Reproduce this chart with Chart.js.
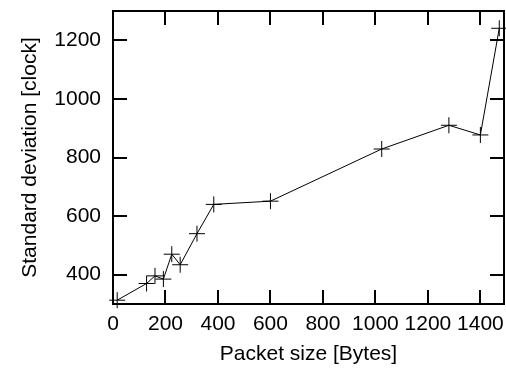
<!DOCTYPE html>
<html><head><meta charset="utf-8">
<script src="https://cdn.jsdelivr.net/npm/chart.js@4.4.1/dist/chart.umd.min.js"></script>
<style>html,body{margin:0;padding:0;background:#fff}#wrap{width:506px;height:370px}</style>
</head><body><div id="wrap"><canvas id="c" width="506" height="370"></canvas></div>
<script>
const packetSizes = [16, 128, 160, 192, 224, 256, 320, 384, 600, 1024, 1280, 1400, 1472];
const stdDev = [313, 370, 396, 385, 470, 434, 540, 640, 651, 829, 910, 877, 1241];
const xTicks = [0, 200, 400, 600, 800, 1000, 1200, 1400];
const yTicks = [400, 600, 800, 1000, 1200];
const xTitle = 'Packet size [Bytes]';
const yTitle = 'Standard deviation [clock]';

const FONT = 'Liberation Sans, Arial, Helvetica, sans-serif';

const framePlugin = {
  id: 'frame',
  beforeDatasetsDraw(chart) {
    const { ctx, chartArea: a, scales } = chart;
    const x = scales.x, y = scales.y;
    const L = 14;
    ctx.save();
    ctx.strokeStyle = '#000';
    ctx.lineWidth = 2;
    ctx.beginPath();
    x.ticks.forEach(t => {
      const px = Math.round(x.getPixelForValue(t.value));
      ctx.moveTo(px, a.bottom); ctx.lineTo(px, a.bottom - L);
      ctx.moveTo(px, a.top); ctx.lineTo(px, a.top + L);
    });
    y.ticks.forEach(t => {
      const py = Math.round(y.getPixelForValue(t.value));
      ctx.moveTo(a.left, py); ctx.lineTo(a.left + L, py);
      ctx.moveTo(a.right, py); ctx.lineTo(a.right - L, py);
    });
    ctx.stroke();
    ctx.strokeRect(a.left, a.top, a.right - a.left, a.bottom - a.top);
    ctx.restore();
  }
};

const noPad = s => { s.paddingTop = 0; s.paddingBottom = 0; s.paddingLeft = 0; s.paddingRight = 0; };

new Chart(document.getElementById('c'), {
  type: 'line',
  data: {
    datasets: [{
      data: packetSizes.map((v, i) => ({ x: v, y: stdDev[i] })),
      borderColor: '#000',
      borderWidth: 1,
      pointStyle: 'cross',
      pointRadius: 8,
      pointBorderColor: '#000',
      pointBorderWidth: 1,
      tension: 0,
      fill: false,
      clip: false
    }]
  },
  options: {
    responsive: false,
    devicePixelRatio: 1,
    animation: false,
    layout: { autoPadding: false, padding: { top: 11, right: 2, bottom: 0, left: 0 } },
    plugins: { legend: { display: false }, tooltip: { enabled: false } },
    scales: {
      x: {
        type: 'linear',
        min: 0,
        max: 1490,
        grid: { display: false, drawTicks: true, tickLength: 10 },
        border: { display: false },
        afterBuildTicks: s => { s.ticks = xTicks.map(v => ({ value: v })); },
        afterFit: s => { s.height = 66; noPad(s); },
        ticks: { color: '#000', font: { family: FONT, size: 21, lineHeight: 1.0 }, padding: 0, maxRotation: 0, autoSkip: false, callback: v => String(v) },
        title: { display: true, text: xTitle, color: '#000', font: { family: FONT, size: 21, lineHeight: 1.2 }, padding: { top: 0, bottom: 3 } }
      },
      y: {
        type: 'linear',
        min: 300,
        max: 1300,
        grid: { display: false, drawTicks: true, tickLength: 12 },
        border: { display: false },
        afterBuildTicks: s => { s.ticks = yTicks.map(v => ({ value: v })); },
        afterFit: s => { s.width = 113; noPad(s); },
        ticks: { color: '#000', font: { family: FONT, size: 21, lineHeight: 1.0 }, padding: 0, autoSkip: false, callback: v => String(v) },
        title: { display: true, text: yTitle, color: '#000', font: { family: FONT, size: 21, lineHeight: 1.2 }, padding: { top: 18, bottom: 0 } }
      }
    }
  },
  plugins: [framePlugin]
});
</script>
</body></html>
